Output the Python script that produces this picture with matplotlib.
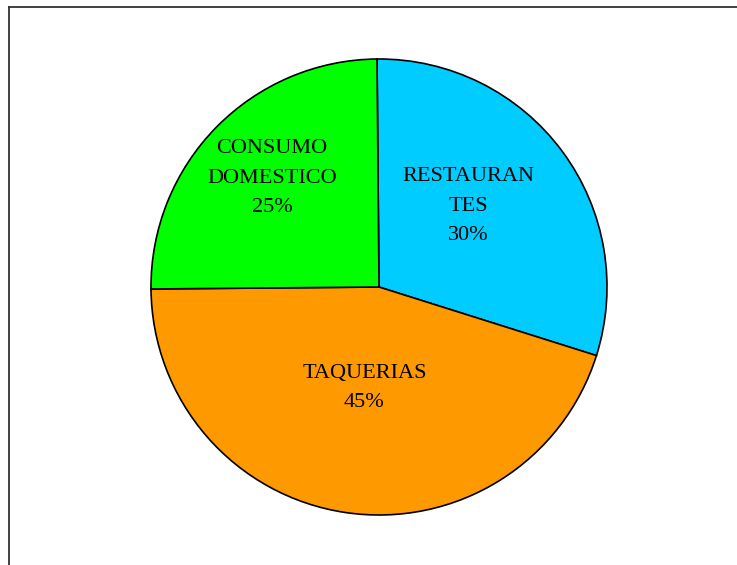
import matplotlib.pyplot as plt
from matplotlib.lines import Line2D

# Data
labels = ["RESTAURAN\nTES", "TAQUERIAS", "CONSUMO\nDOMESTICO"]
shares = [30, 45, 25]
colors = ["#00CCFF", "#FF9900", "#00FF00"]

# label positions inside the pie (radius units)
label_pos = [(0.39, 0.355), (-0.064, -0.443), (-0.469, 0.478)]

W, H = 737, 565
fig = plt.figure(figsize=(W / 100, H / 100), dpi=100)

# pie centre / radius in pixels
cx, cy, r = 379, 287, 228
lim = 1.05
side = 2 * lim * r
ax = fig.add_axes([(cx - side / 2) / W, (H - cy - side / 2) / H, side / W, side / H])

ax.pie(shares, colors=colors, startangle=90.5, counterclock=False,
       wedgeprops=dict(edgecolor="black", linewidth=1.2))
ax.set_xlim(-lim, lim)
ax.set_ylim(-lim, lim)
ax.set_aspect("equal")
ax.axis("off")

for lab, val, (x, y) in zip(labels, shares, label_pos):
    ax.text(x, y, f"{lab}\n{val}%", ha="center", va="center",
            fontsize=16, family="Liberation Serif", linespacing=1.75)

# outer frame (top and left edges)
fig.add_artist(Line2D([8.5 / W, 1], [1 - 6.5 / H, 1 - 6.5 / H],
                      transform=fig.transFigure, color="#333333", linewidth=1.3))
fig.add_artist(Line2D([8.5 / W, 8.5 / W], [0, 1 - 6.5 / H],
                      transform=fig.transFigure, color="#333333", linewidth=1.3))

fig.savefig("out.png", dpi=100, facecolor="white")
